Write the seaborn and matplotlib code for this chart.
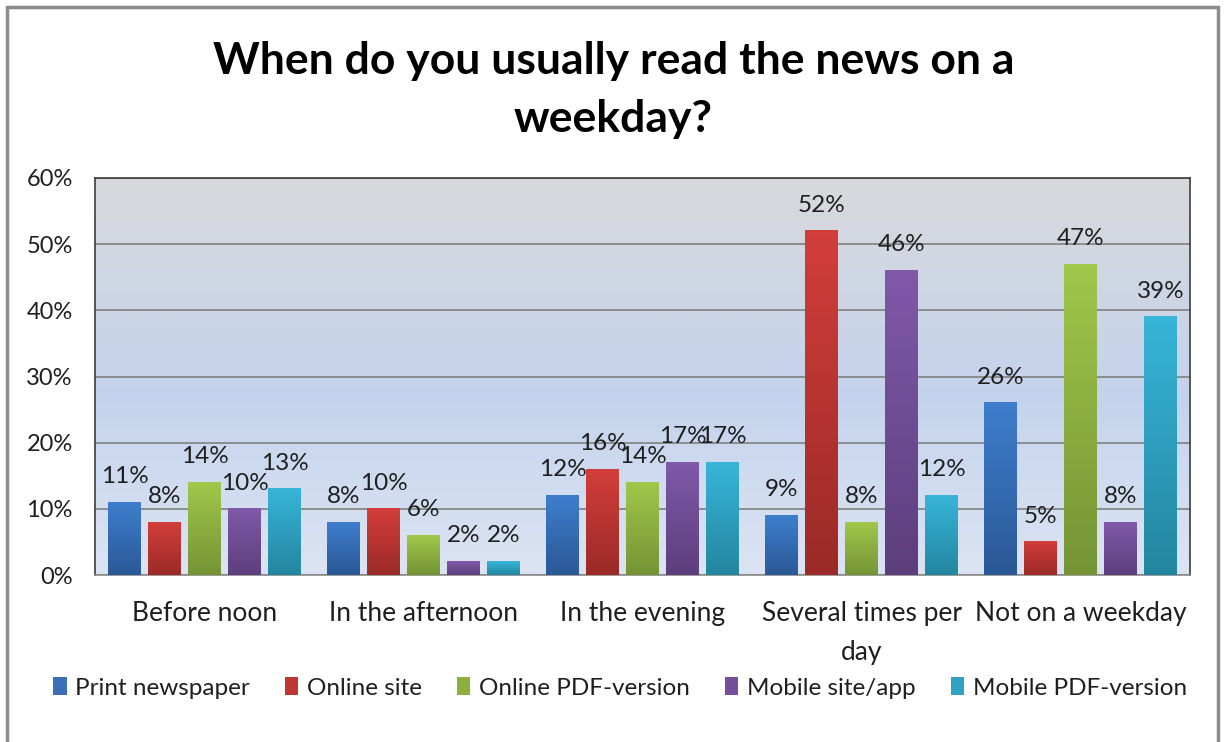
import numpy as np
import pandas as pd
import matplotlib
matplotlib.use("Agg")
import matplotlib.pyplot as plt
import seaborn as sns
from matplotlib.patches import Patch, Rectangle
from matplotlib.colors import to_rgb

# Survey answers (percent of respondents per reading channel)
categories = ["Before noon", "In the afternoon", "In the evening",
              "Several times per day", "Not on a weekday"]
series = ["Print newspaper", "Online site", "Online PDF-version",
          "Mobile site/app", "Mobile PDF-version"]
print_newspaper = [11, 8, 12, 9, 26]
online_site = [8, 10, 16, 52, 5]
online_pdf = [14, 6, 14, 8, 47]
mobile_site = [10, 2, 17, 46, 8]
mobile_pdf = [13, 2, 17, 12, 39]
y_ticks = [0, 10, 20, 30, 40, 50, 60]
title = "When do you usually read the news on a\nweekday?"

# Bar gradient colours (top -> bottom) and a flat mid tone for the legend
top_colors = ["#3e7ecd", "#d23e3a", "#a0c84a", "#8059a9", "#38b5d9"]
bottom_colors = ["#2b5896", "#9b2a27", "#759335", "#5d3e7d", "#23869f"]
mid_colors = ["#3a6fb8", "#bf3733", "#8db041", "#724f96", "#2fa1c1"]

values = [print_newspaper, online_site, online_pdf, mobile_site, mobile_pdf]
df = pd.DataFrame(
    [(c, s, v) for s, vals in zip(series, values) for c, v in zip(categories, vals)],
    columns=["category", "series", "value"],
)

sns.set_theme(style="white")
plt.rcParams["font.family"] = ["Lato", "DejaVu Sans"]

fig = plt.figure(figsize=(12.27, 7.42), dpi=100)
ax = fig.add_axes([95 / 1227, 1 - 575 / 742, (1190 - 95) / 1227, (575 - 178) / 742])

sns.barplot(data=df, x="category", y="value", hue="series",
            order=categories, hue_order=series, palette=mid_colors,
            saturation=1, width=0.913, gap=0.175, errorbar=None,
            legend=False, ax=ax)

# Replace the flat fills with vertical gradients
n = 256
for cont, ctop, cbot in zip(ax.containers, top_colors, bottom_colors):
    t = np.linspace(0, 1, n)[:, None, None]
    grad = (1 - t) * np.array(to_rgb(ctop)) + t * np.array(to_rgb(cbot))
    for p in cont.patches:
        x0, w, h = p.get_x(), p.get_width(), p.get_height()
        ax.imshow(grad, extent=[x0, x0 + w, 0, h], aspect="auto",
                  origin="upper", zorder=3, interpolation="bilinear")
        p.set_facecolor("none")
        p.set_edgecolor("none")
    ax.bar_label(cont, fmt="%g%%", padding=11, fontsize=17.5,
                 color="#1f1f1f", zorder=5)

# Plot-area background: grey at the top fading into pale blue
stops = np.array([[0.0, *to_rgb("#d9d9dc")],
                  [0.55, *to_rgb("#c4d3ed")],
                  [1.0, *to_rgb("#dce4f3")]])
tt = np.linspace(0, 1, n)
bg = np.stack([np.interp(tt, stops[:, 0], stops[:, k]) for k in (1, 2, 3)], axis=-1)[:, None, :]
ax.imshow(bg, extent=[0, 1, 0, 1], transform=ax.transAxes, aspect="auto",
          origin="upper", zorder=0, interpolation="bilinear")

ax.set_xlim(-0.5, len(categories) - 0.5)
ax.set_ylim(y_ticks[0], y_ticks[-1])
ax.set_yticks(y_ticks)
ax.set_yticklabels([f"{t}%" for t in y_ticks])
ax.set_xticks(range(len(categories)))
ax.set_xticklabels([c.replace("per day", "per\nday") for c in categories])
ax.set_xlabel("")
ax.set_ylabel("")
ax.tick_params(axis="both", length=0, colors="#1f1f1f")
ax.tick_params(axis="y", pad=16, labelsize=17)
ax.tick_params(axis="x", pad=19, labelsize=19)
for lbl in ax.get_xticklabels():
    lbl.set_linespacing(1.7)
    lbl.set_verticalalignment("top")

ax.yaxis.grid(True, color="#878787", lw=1.3)
ax.set_axisbelow(True)
for sp in ax.spines.values():
    sp.set_visible(True)
    sp.set_color("#3c3c3c")
    sp.set_linewidth(1.2)
ax.spines["bottom"].set_color("#8a8a8a")

fig.text(0.5, 1 - 90 / 742, title, ha="center", va="center",
         fontsize=32, fontweight="bold", color="black", linespacing=1.55)

handles = [Patch(facecolor=c, edgecolor="none") for c in mid_colors]
fig.legend(handles, series, loc="center", bbox_to_anchor=(620 / 1227, 1 - 688 / 742),
           ncol=5, frameon=False, fontsize=17.5, handlelength=0.55, handleheight=0.7,
           handletextpad=0.35, columnspacing=1.45, labelcolor="#1f1f1f")

# Outer chart frame
fig.patches.append(Rectangle((7 / 1227, -0.02), (1218 - 7) / 1227, 1 - 7 / 742 + 0.02,
                             transform=fig.transFigure, fill=False,
                             edgecolor="#8c8c8c", linewidth=2.5))

fig.savefig("out.png", dpi=100, facecolor="white")
